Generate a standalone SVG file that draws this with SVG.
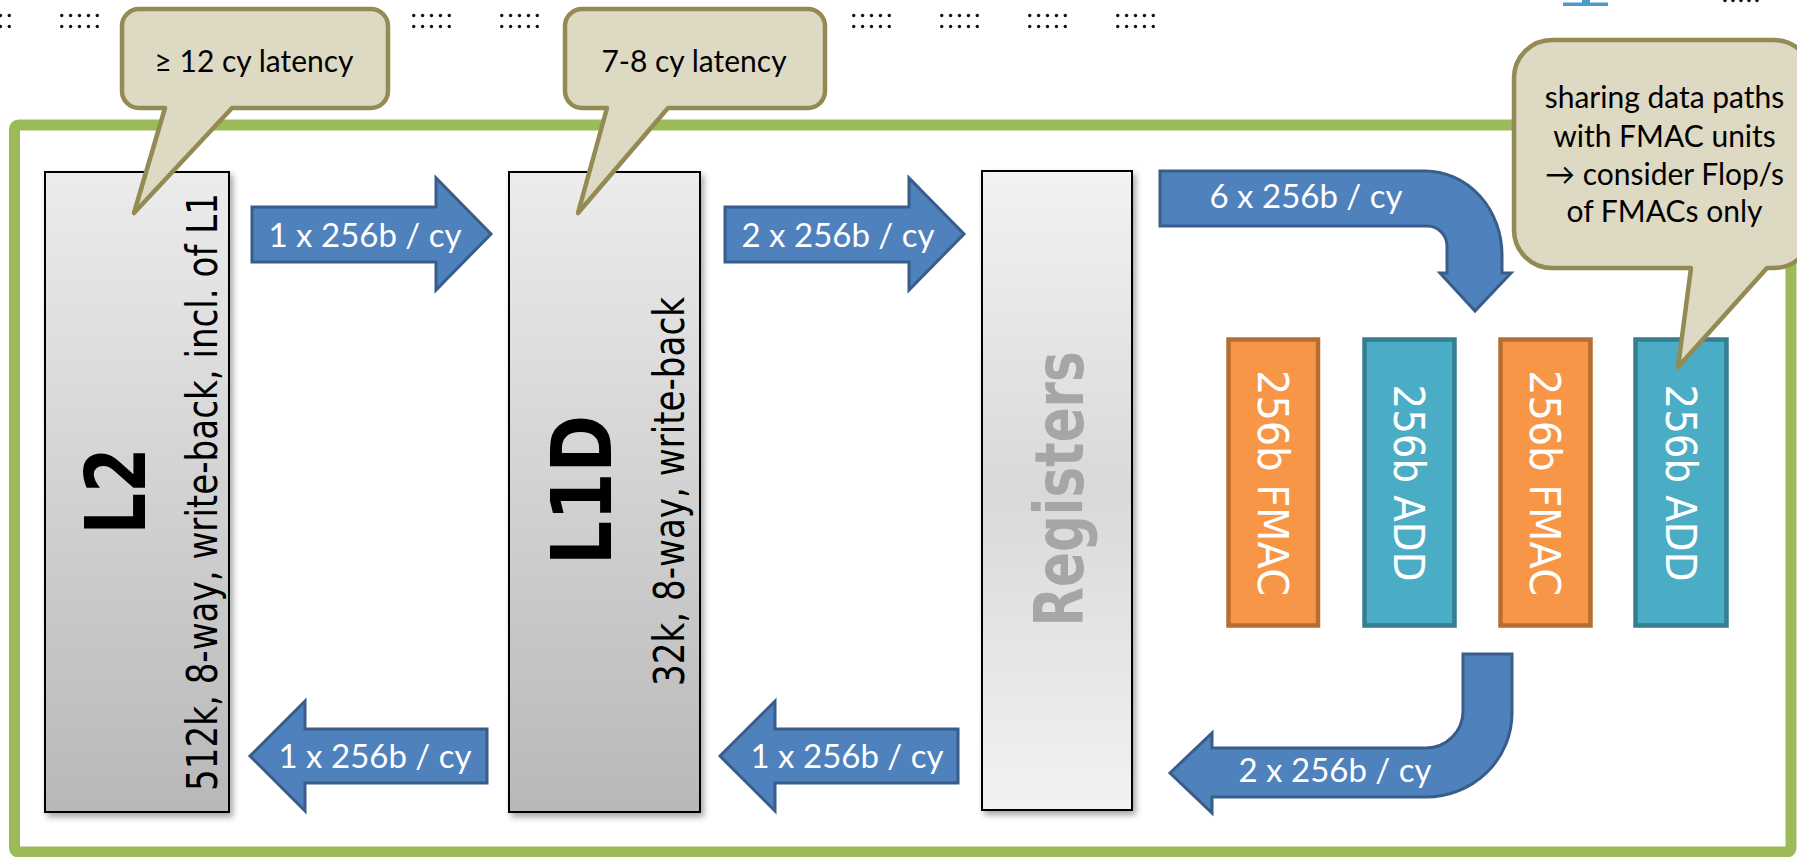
<svg xmlns="http://www.w3.org/2000/svg" width="1797" height="857" viewBox="0 0 1797 857">
  <defs>
    <linearGradient id="gCache" x1="0" y1="0" x2="0" y2="1">
      <stop offset="0" stop-color="#ECECEC"/>
      <stop offset="1" stop-color="#B8B8B8"/>
    </linearGradient>
    <linearGradient id="gReg" x1="0" y1="0" x2="0" y2="1">
      <stop offset="0" stop-color="#F2F2F2"/>
      <stop offset="0.5" stop-color="#D9D9D9"/>
      <stop offset="1" stop-color="#F2F2F2"/>
    </linearGradient>
    <filter id="shadow" x="-10%" y="-5%" width="125%" height="115%">
      <feDropShadow dx="3" dy="4" stdDeviation="3" flood-color="#000" flood-opacity="0.35"/>
    </filter>
    <g id="dots">
      <circle cx="1.7" cy="15.5" r="1.7"/><circle cx="10.6" cy="15.5" r="1.7"/><circle cx="19.5" cy="15.5" r="1.7"/><circle cx="28.4" cy="15.5" r="1.7"/><circle cx="37.3" cy="15.5" r="1.7"/>
      <circle cx="1.7" cy="26.5" r="1.7"/><circle cx="10.6" cy="26.5" r="1.7"/><circle cx="19.5" cy="26.5" r="1.7"/><circle cx="28.4" cy="26.5" r="1.7"/><circle cx="37.3" cy="26.5" r="1.7"/>
    </g>
  </defs>
  <style>
    .cache { fill: url(#gCache); stroke: #000; stroke-width: 2; filter: url(#shadow); }
    .reg { fill: url(#gReg); stroke: #000; stroke-width: 2; filter: url(#shadow); }
    .fmac { fill: #F79646; stroke: #B66D31; stroke-width: 4.5; }
    .add { fill: #4BACC6; stroke: #357D91; stroke-width: 4.5; }
    .arrow { fill: #4F81BD; stroke: #385D8A; stroke-width: 3; stroke-linejoin: miter; }
    .bubble { fill: #DDD9C3; stroke: #948A54; stroke-width: 4.5; stroke-linejoin: round; }
    .vtxt { font-family: "DejaVu Sans", Verdana, sans-serif; text-anchor: middle; }
    .big { font-weight: bold; font-size: 84px; fill: #000; }
    .desc { font-size: 42px; fill: #000; }
    .unit { font-size: 43px; fill: #fff; }
    .lbl { font-family: Lato, "Open Sans", sans-serif; font-size: 33px; fill: #fff; text-anchor: middle; }
    .btxt { font-family: Lato, "Open Sans", sans-serif; font-size: 30px; fill: #000; text-anchor: middle; }
  </style>

  <rect width="1797" height="857" fill="#fff"/>

  <!-- top decorative dots -->
  <g id="top-marks" fill="#111">
    <use href="#dots" x="-28"/>
    <use href="#dots" x="60"/>
    <use href="#dots" x="412"/>
    <use href="#dots" x="500"/>
    <use href="#dots" x="852"/>
    <use href="#dots" x="940"/>
    <use href="#dots" x="1028"/>
    <use href="#dots" x="1116"/>
    <circle cx="1725" cy="0.5" r="1.7"/><circle cx="1733" cy="0.5" r="1.7"/><circle cx="1741" cy="0.5" r="1.7"/><circle cx="1749" cy="0.5" r="1.7"/><circle cx="1757" cy="0.5" r="1.7"/>
    <path d="M1582,0 H1590 V2.5 H1608 V6 H1563 V2.5 H1582 Z" fill="#4A9BCB"/>
  </g>

  <!-- outer frame -->
  <g id="frame">
    <rect x="14.5" y="125" width="1776.5" height="727" rx="4" fill="none" stroke="#9BBB59" stroke-width="11"/>
  </g>

  <g id="L2">
    <rect class="cache" x="45" y="172" width="184" height="640"/>
    <text class="vtxt big" transform="translate(145,491) rotate(-90)" textLength="87" lengthAdjust="spacingAndGlyphs">L2</text>
    <text class="vtxt desc" transform="translate(217,492) rotate(-90)" textLength="598" lengthAdjust="spacingAndGlyphs">512k, 8-way, write-back, incl. of L1</text>
  </g>

  <g id="L1D">
    <rect class="cache" x="509" y="172" width="191" height="640"/>
    <text class="vtxt big" transform="translate(611,490) rotate(-90)" textLength="150" lengthAdjust="spacingAndGlyphs">L1D</text>
    <text class="vtxt desc" transform="translate(684,491.5) rotate(-90)" textLength="389" lengthAdjust="spacingAndGlyphs">32k, 8-way, write-back</text>
  </g>

  <g id="Registers">
    <rect class="reg" x="982" y="171" width="150" height="639"/>
    <text class="vtxt" transform="translate(1083,489) rotate(-90)" font-size="67" font-weight="bold" fill="#A6A6A6" textLength="275" lengthAdjust="spacingAndGlyphs">Registers</text>
  </g>

  <g id="FMAC1">
    <rect class="fmac" x="1228.5" y="339.5" width="89.5" height="286"/>
    <text class="vtxt unit" transform="translate(1257.5,483) rotate(90)" textLength="226" lengthAdjust="spacingAndGlyphs">256b FMAC</text>
  </g>
  <g id="ADD1">
    <rect class="add" x="1364.5" y="339.5" width="90" height="286"/>
    <text class="vtxt unit" transform="translate(1393.5,483) rotate(90)" textLength="197" lengthAdjust="spacingAndGlyphs">256b ADD</text>
  </g>
  <g id="FMAC2">
    <rect class="fmac" x="1500.5" y="339.5" width="90" height="286"/>
    <text class="vtxt unit" transform="translate(1530,483) rotate(90)" textLength="226" lengthAdjust="spacingAndGlyphs">256b FMAC</text>
  </g>
  <g id="ADD2">
    <rect class="add" x="1635.5" y="339.5" width="91" height="286"/>
    <text class="vtxt unit" transform="translate(1665.5,483) rotate(90)" textLength="197" lengthAdjust="spacingAndGlyphs">256b ADD</text>
  </g>

  <g id="connectors">
    <path class="arrow" d="M252,207 H436 V178 L491,234 L436,290 V262 H252 Z"/>
    <text class="lbl" x="365" y="247">1 x 256b / cy</text>

    <path class="arrow" d="M725,207 H909 V178 L964,234 L909,290 V262 H725 Z"/>
    <text class="lbl" x="838" y="247">2 x 256b / cy</text>

    <path class="arrow" d="M1160,171 H1425 A77 84 0 0 1 1502,255 V273 H1511 L1475,311 L1440,273 H1447 V246 A20 20 0 0 0 1427,226 H1160 Z"/>
    <text class="lbl" x="1306" y="208">6 x 256b / cy</text>

    <path class="arrow" d="M1463,654 H1512 V713 A86 84 0 0 1 1426,797 H1212 V813 L1170,773 L1212,733 V748 H1426 A37 37 0 0 0 1463,711 Z"/>
    <text class="lbl" x="1335" y="782">2 x 256b / cy</text>

    <path class="arrow" d="M958,729 H775 V701 L720,756 L775,811 V783 H958 Z"/>
    <text class="lbl" x="847" y="768">1 x 256b / cy</text>

    <path class="arrow" d="M487,729 H305 V701 L250,756 L305,811 V783 H487 Z"/>
    <text class="lbl" x="375" y="768">1 x 256b / cy</text>
  </g>

  <g id="bubble-L2">
    <path class="bubble" d="M139,9 H371 A17 17 0 0 1 388,26 V91 A17 17 0 0 1 371,108 H232 L134,213 L165,108 H139 A17 17 0 0 1 122,91 V26 A17 17 0 0 1 139,9 Z"/>
    <text class="btxt" x="254" y="72">≥ 12 cy latency</text>
  </g>

  <g id="bubble-L1D">
    <path class="bubble" d="M582,9 H808 A17 17 0 0 1 825,26 V91 A17 17 0 0 1 808,108 H668 L578,213 L607,108 H582 A17 17 0 0 1 565,91 V26 A17 17 0 0 1 582,9 Z"/>
    <text class="btxt" x="694" y="72">7-8 cy latency</text>
  </g>

  <g id="bubble-FMAC">
    <path class="bubble" d="M1552,40 H1774 A38 38 0 0 1 1812,78 V230 A38 38 0 0 1 1774,268 H1767 L1678,367 L1691,268 H1552 A38 38 0 0 1 1514,230 V78 A38 38 0 0 1 1552,40 Z"/>
    <text class="btxt" x="1664.5" y="108">sharing data paths</text>
    <text class="btxt" x="1664.5" y="147">with FMAC units</text>
    <text class="btxt" x="1664.5" y="185">→ consider Flop/s</text>
    <text class="btxt" x="1664.5" y="222">of FMACs only</text>
  </g>
</svg>
